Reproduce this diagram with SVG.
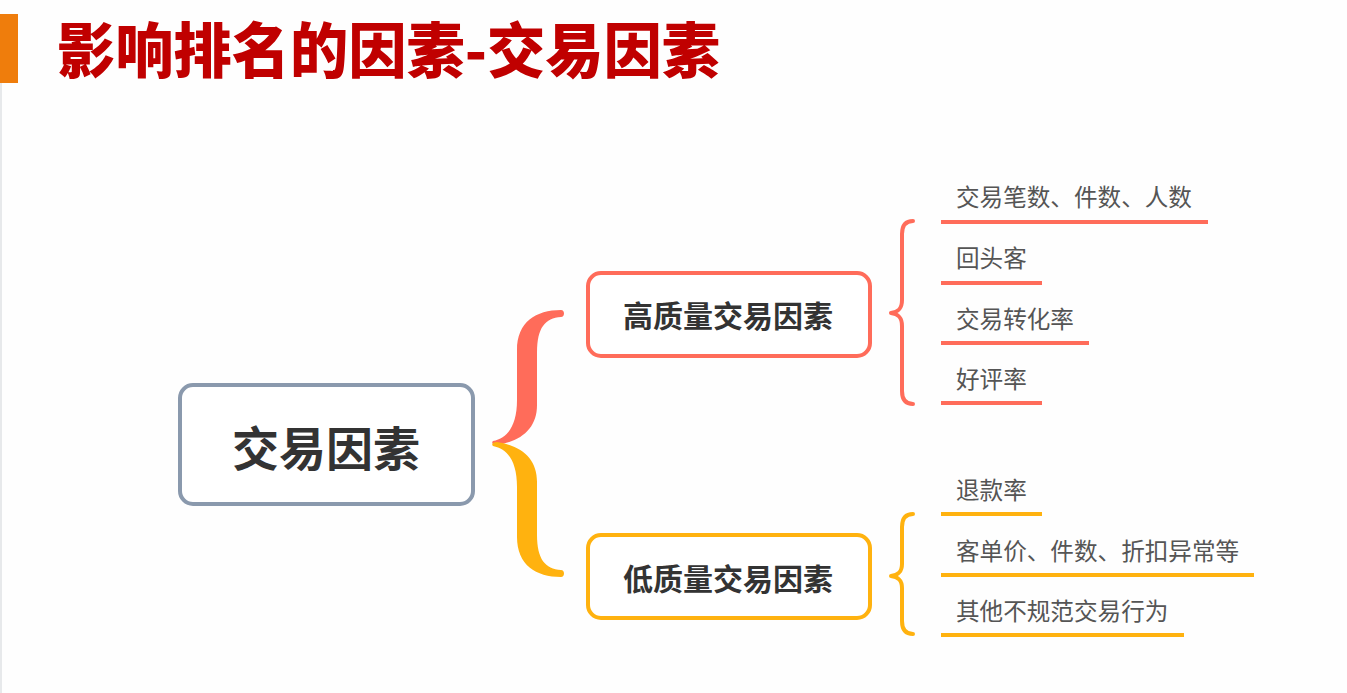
<svg xmlns="http://www.w3.org/2000/svg" width="1347" height="693" viewBox="0 0 1347 693">
<style>
.title{font-family:"Noto Sans CJK SC","Noto Sans",sans-serif;font-weight:900;font-size:60px;fill:#c00000}
.node{fill:#ffffff;stroke-width:4}
.ntext{font-family:"Noto Sans CJK SC","Noto Sans",sans-serif;font-weight:700;fill:#333333;text-anchor:middle;dominant-baseline:central}
.leaf{font-family:"Noto Sans CJK SC","Noto Sans",sans-serif;font-size:23.6px;fill:#555555}
.red{stroke:#ff6c5a}
.yel{stroke:#ffb20f}
.ul{stroke-width:4;fill:none}
.br{stroke-width:4;fill:none;stroke-linecap:round;stroke-linejoin:round}
</style>
<rect x="0" y="0" width="1347" height="693" fill="#fefefe"/>
<line x1="1" y1="83" x2="1" y2="693" stroke="#dfe2e5" stroke-width="1.5"/>
<rect x="0" y="14" width="18" height="69" fill="#ef7d0c"/>
<text class="title" x="57" y="73" textLength="663" lengthAdjust="spacingAndGlyphs">影响排名的因素-交易因素</text>

<g id="connectors">
<path id="brace-top" fill="#ff6c5a" d="M561,310 C536,310 517,322 517,350 L517,400 C517,425 508,438 493,441 C491,443 493,445 497,445 C522,441 537,428 537,405 L537,352 C537,328 545,318 561,317 C565,317 565,310 561,310 Z"/>
<path id="brace-bottom" fill="#ffb20f" transform="matrix(1 0 0 -1 0 887)" d="M561,310 C536,310 517,322 517,350 L517,400 C517,425 508,438 493,441 C491,443 493,445 497,445 C522,441 537,428 537,405 L537,352 C537,328 545,318 561,317 C565,317 565,310 561,310 Z"/>
<path class="br red" d="M913,221 C905,221 902,226 902,234 L902,300 C902,309 898,312 891,313 C898,314 902,317 902,326 L902,391 C902,399 905,404 913,404"/>
<path class="br yel" d="M913,514 C905,514 902,519 902,527 L902,564 C902,572 898,575 891,576 C898,577 902,580 902,588 L902,621 C902,629 905,634 913,634"/>
</g>

<g id="root">
<rect class="node" x="180" y="385" width="293" height="119" rx="13" stroke="#8a99ad"/>
<text class="ntext" x="326" y="445" font-size="47">交易因素</text>
</g>

<g id="high">
<rect class="node red" x="588" y="273" width="282" height="83" rx="13"/>
<text class="ntext" x="728" y="314" font-size="30">高质量交易因素</text>
</g>

<g id="low">
<rect class="node yel" x="588" y="535" width="282" height="83" rx="13"/>
<text class="ntext" x="728" y="577" font-size="30">低质量交易因素</text>
</g>

<g id="leaf-h1"><text class="leaf" x="956" y="206">交易笔数、件数、人数</text><line class="ul red" x1="941" y1="222" x2="1208" y2="222"/></g>
<g id="leaf-h2"><text class="leaf" x="956" y="267">回头客</text><line class="ul red" x1="941" y1="283" x2="1042" y2="283"/></g>
<g id="leaf-h3"><text class="leaf" x="956" y="328">交易转化率</text><line class="ul red" x1="941" y1="343" x2="1089" y2="343"/></g>
<g id="leaf-h4"><text class="leaf" x="956" y="388">好评率</text><line class="ul red" x1="941" y1="403" x2="1042" y2="403"/></g>

<g id="leaf-l1"><text class="leaf" x="956" y="499">退款率</text><line class="ul yel" x1="941" y1="514" x2="1042" y2="514"/></g>
<g id="leaf-l2"><text class="leaf" x="956" y="560">客单价、件数、折扣异常等</text><line class="ul yel" x1="941" y1="575" x2="1254" y2="575"/></g>
<g id="leaf-l3"><text class="leaf" x="956" y="620">其他不规范交易行为</text><line class="ul yel" x1="941" y1="635" x2="1184" y2="635"/></g>
</svg>
